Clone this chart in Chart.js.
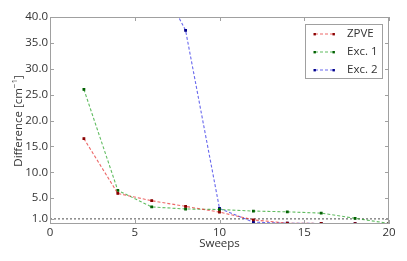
<!DOCTYPE html>
<html>
<head>
<meta charset="UTF-8">
<script src="https://cdn.jsdelivr.net/npm/chart.js"></script>
<style>
    body { margin: 0; background: #fff; }
    #wrap { width: 407px; height: 261px; }
</style>
</head>
<body>
<div id="wrap"><canvas id="chart"></canvas></div>
<script>
    // data
    const sweeps = [2, 4, 6, 8, 10, 12, 14, 16, 18, 20];
    const zpve = [16.5, 5.9, 4.5, 3.4, 2.3, 0.8, 0.15, 0.1, 0.08, 0.05];
    const exc1 = [26.0, 6.5, 3.3, 2.9, 2.8, 2.5, 2.35, 2.1, 1.1, 0.1];
    const exc2 = [null, null, 50, 37.4, 3.0, 0.35, 0.15, 0.1, 0.08, 0.05];
    const seriesLabels = ['ZPVE', 'Exc. 1', 'Exc. 2'];
    const yTicks = [1, 5, 10, 15, 20, 25, 30, 35, 40];
    const xTicks = [0, 5, 10, 15, 20];
    const refLevel = 1.0;
    const refX = [0, 20];

    const FONT = '"Open Sans", "DejaVu Sans", sans-serif';
    const FS = 11.5;
    const lineCols = ['rgba(230,40,40,0.7)', 'rgba(30,160,30,0.7)', 'rgba(40,40,230,0.7)'];
    const pointCols = ['#8a0000', '#006000', '#00008a'];

    function series(values, i) {
        return {
            label: seriesLabels[i],
            data: sweeps.map((x, k) => ({ x: x, y: values[k] })),
            borderColor: lineCols[i],
            backgroundColor: pointCols[i],
            pointBackgroundColor: pointCols[i],
            pointBorderColor: pointCols[i],
            pointStyle: 'rect',
            pointRadius: 1.2,
            borderWidth: 1.1,
            borderDash: [3, 2],
            spanGaps: false,
            tension: 0
        };
    }

    const datasets = [series(zpve, 0), series(exc1, 1), series(exc2, 2), {
        label: 'ref',
        data: refX.map(x => ({ x: x, y: refLevel })),
        borderColor: '#888',
        borderWidth: 1.5,
        borderDash: [2, 2],
        pointRadius: 0
    }];

    const frame = {
        id: 'frame',
        afterDraw(chart) {
            const ctx = chart.ctx;
            const a = chart.chartArea;
            const xs = chart.scales.x, ys = chart.scales.y;
            ctx.save();
            // axes box
            ctx.strokeStyle = '#a0a0a0';
            ctx.lineWidth = 1;
            ctx.strokeRect(a.left + 0.5, a.top + 0.5, a.right - a.left - 1, a.bottom - a.top - 1);
            // inward tick marks on all four sides
            ctx.beginPath();
            xTicks.forEach(v => {
                const px = Math.round(xs.getPixelForValue(v)) + 0.5;
                ctx.moveTo(px, a.bottom); ctx.lineTo(px, a.bottom - 4);
                ctx.moveTo(px, a.top); ctx.lineTo(px, a.top + 4);
            });
            yTicks.forEach(v => {
                const py = Math.round(ys.getPixelForValue(v)) + 0.5;
                ctx.moveTo(a.left, py); ctx.lineTo(a.left + 4, py);
                ctx.moveTo(a.right, py); ctx.lineTo(a.right - 4, py);
            });
            ctx.stroke();

            // axis titles
            ctx.fillStyle = '#333';
            ctx.font = FS + 'px ' + FONT;
            ctx.textAlign = 'center';
            ctx.textBaseline = 'middle';
            ctx.fillText('Sweeps', (a.left + a.right) / 2, 244);

            ctx.translate(19, 121);
            ctx.rotate(-Math.PI / 2);
            const main = 'Difference [cm';
            const sup = '\u22121';
            ctx.font = FS + 'px ' + FONT;
            const w1 = ctx.measureText(main).width;
            const w3 = ctx.measureText(']').width;
            ctx.font = '8px ' + FONT;
            const w2 = ctx.measureText(sup).width;
            let x0 = -(w1 + w2 + w3) / 2;
            ctx.textAlign = 'left';
            ctx.font = FS + 'px ' + FONT;
            ctx.fillText(main, x0, 0);
            ctx.font = '8px ' + FONT;
            ctx.fillText(sup, x0 + w1, -4);
            ctx.font = FS + 'px ' + FONT;
            ctx.fillText(']', x0 + w1 + w2, 0);
            ctx.restore();

            // legend box
            ctx.save();
            const bx = 305.5, by = 24.5, bw = 77, bh = 54;
            ctx.fillStyle = '#fff';
            ctx.fillRect(bx, by, bw, bh);
            ctx.strokeStyle = '#a0a0a0';
            ctx.strokeRect(bx, by, bw, bh);
            ctx.font = FS + 'px ' + FONT;
            ctx.textBaseline = 'middle';
            ctx.textAlign = 'left';
            for (let i = 0; i < 3; i++) {
                const ly = 34 + i * 18;
                ctx.strokeStyle = lineCols[i];
                ctx.lineWidth = 1.1;
                ctx.setLineDash([3, 2]);
                ctx.beginPath();
                ctx.moveTo(315, ly); ctx.lineTo(334, ly);
                ctx.stroke();
                ctx.setLineDash([]);
                ctx.fillStyle = pointCols[i];
                ctx.fillRect(313.5, ly - 1, 2.4, 2.4);
                ctx.fillRect(332.5, ly - 1, 2.4, 2.4);
                ctx.fillStyle = '#333';
                ctx.fillText(seriesLabels[i], 347, ly);
            }
            ctx.restore();
        }
    };

    new Chart(document.getElementById('chart'), {
        type: 'line',
        data: { datasets: datasets },
        options: {
            responsive: true,
            maintainAspectRatio: false,
            animation: false,
            events: [],
            layout: { padding: { left: 0, right: 18, top: 17, bottom: 0 } },
            plugins: { legend: { display: false }, tooltip: { enabled: false } },
            scales: {
                x: {
                    type: 'linear', min: 0, max: 20,
                    grid: { display: false, drawTicks: false },
                    border: { display: false },
                    afterBuildTicks: s => { s.ticks = xTicks.map(v => ({ value: v })); },
                    afterFit: s => { s.height = 37; },
                    ticks: { color: '#333', font: { family: FONT, size: FS }, padding: 2, maxRotation: 0 }
                },
                y: {
                    type: 'linear', min: 0, max: 40,
                    grid: { display: false, drawTicks: false },
                    border: { display: false },
                    afterBuildTicks: s => { s.ticks = yTicks.map(v => ({ value: v })); },
                    afterFit: s => { s.width = 50; },
                    ticks: { color: '#333', font: { family: FONT, size: FS }, padding: 2,
                        callback: v => Number(v).toFixed(1) }
                }
            }
        },
        plugins: [frame]
    });
</script>
</body>
</html>
